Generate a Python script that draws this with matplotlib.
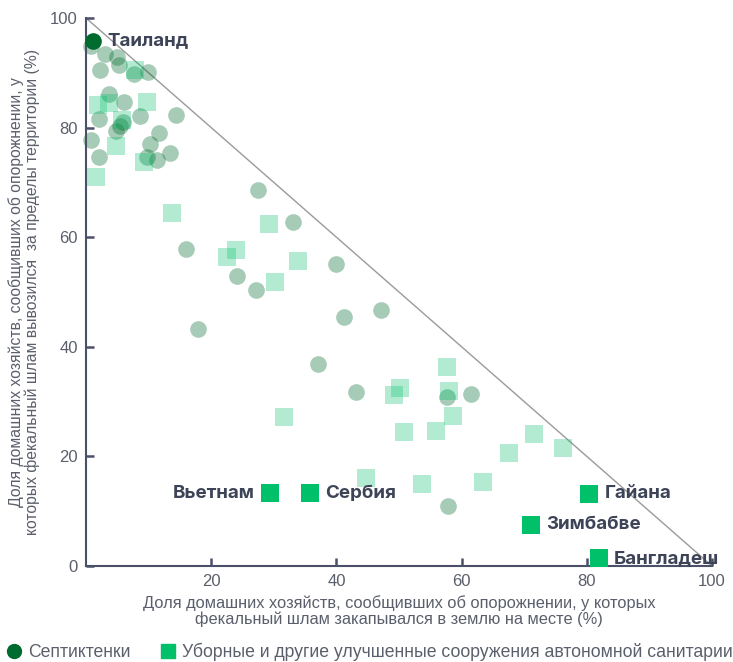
import matplotlib
matplotlib.use("Agg")
from matplotlib import pyplot as plt
from matplotlib.lines import Line2D

# Септиктенки (круги)
septic_x = [0.75, 3.1, 4.9, 5.3, 2.2, 7.6, 9.95, 3.7, 6.0, 2.0, 8.6, 14.3, 5.9, 5.4, 4.8,
            0.75, 11.7, 10.2, 2.1, 9.7, 11.4, 13.4,
            27.4, 33.0, 15.9, 24.2, 27.2, 39.9, 41.2, 47.1, 17.9, 37.1, 43.2, 57.6, 61.5, 57.8]
septic_y = [94.9, 93.4, 92.8, 91.4, 90.6, 89.8, 90.2, 86.2, 84.7, 81.6, 82.2, 82.3, 81.0, 80.3, 79.4,
            77.8, 79.1, 77.0, 74.7, 74.7, 74.0, 75.3,
            68.7, 62.8, 57.8, 52.9, 50.3, 55.2, 45.4, 46.8, 43.2, 36.8, 31.8, 30.8, 31.3, 10.9]

# Уборные и другие улучшенные сооружения (квадраты)
latrine_x = [7.8, 1.9, 3.7, 9.7, 5.75, 4.8, 9.3, 1.6,
             13.8, 29.2, 24.0, 22.5, 33.9, 30.2, 57.7, 50.2, 49.2, 58.0, 58.6, 31.7, 50.8, 55.9,
             71.6, 67.6, 76.2, 44.7, 53.7, 63.4]
latrine_y = [90.5, 84.2, 84.4, 84.7, 81.3, 76.6, 73.7, 71.0,
             64.5, 62.4, 57.7, 56.3, 55.7, 51.8, 36.4, 32.4, 31.2, 32.0, 27.4, 27.2, 24.5, 24.7,
             24.1, 20.7, 21.6, 16.1, 15.0, 15.3]

# Выделенные страны
hl_circle = ("Таиланд", 1.2, 95.8)
hl_squares = [("Вьетнам", 29.4, 13.3, "left"),
              ("Сербия", 35.8, 13.3, "right"),
              ("Гайана", 80.4, 13.2, "right"),
              ("Зимбабве", 71.1, 7.5, "right"),
              ("Бангладеш", 81.9, 1.4, "right")]

DARK = "#006b2e"
LIGHT = "#00c06a"
TEXT = "#3d4457"
GRAY = "#5a5f6b"

narrow = ["Liberation Sans", "DejaVu Sans"]

fig = plt.figure(figsize=(7.33, 6.62), dpi=100)
ax = fig.add_axes([0.1173, 0.145, 0.8541, 0.8278])

ax.plot([0, 100], [100, 0], color="#9a9a9a", lw=1.0, zorder=1)

cs = 12.0   # circle diameter, pt
ss = 12.6   # square side, pt
ax.scatter(septic_x, septic_y, s=cs**2, marker="o", color=DARK, alpha=0.35,
           linewidths=0, zorder=2, clip_on=False)
ax.scatter(latrine_x, latrine_y, s=ss**2, marker="s", color=LIGHT, alpha=0.3,
           linewidths=0, zorder=2, clip_on=False)

ax.scatter([hl_circle[1]], [hl_circle[2]], s=cs**2, marker="o", color=DARK,
           linewidths=0, zorder=4, clip_on=False)
ax.annotate(hl_circle[0], (hl_circle[1], hl_circle[2]), xytext=(10, 0),
            textcoords="offset points", va="center", ha="left",
            fontsize=13.5, fontweight="bold", color=TEXT, family="Inter")

for name, x, y, side in hl_squares:
    ax.scatter([x], [y], s=ss**2, marker="s", color=LIGHT, linewidths=0,
               zorder=4, clip_on=False)
    dx = 11 if side == "right" else -11
    ax.annotate(name, (x, y), xytext=(dx, 0), textcoords="offset points",
                va="center", ha="left" if side == "right" else "right",
                fontsize=13.5, fontweight="bold", color=TEXT, family="Inter",
                zorder=5)

ax.set_xlim(0, 100)
ax.set_ylim(0, 100)
ax.set_xticks([20, 40, 60, 80, 100])
ax.set_yticks([0, 20, 40, 60, 80, 100])
for s in ["top", "right"]:
    ax.spines[s].set_visible(False)
for s in ["left", "bottom"]:
    ax.spines[s].set_color("#4a5068")
    ax.spines[s].set_linewidth(1.5)
ax.tick_params(direction="in", length=6, width=1.8, color="#4a5068",
               labelcolor=GRAY, labelsize=12, pad=6)
for lab in ax.get_xticklabels() + ax.get_yticklabels():
    lab.set_family(narrow)

ax.set_xlabel("Доля домашних хозяйств, сообщивших об опорожнении, у которых\n"
              "фекальный шлам закапывался в землю на месте (%)",
              fontsize=11.8, color=GRAY, family=narrow, labelpad=4, linespacing=1.05)
ax.set_ylabel("Доля домашних хозяйств, сообщивших об опорожнении, у\n"
              "которых фекальный шлам вывозился  за пределы территории (%)",
              fontsize=11.3, color=GRAY, family=narrow, labelpad=7,
              linespacing=1.05)

handles = [Line2D([], [], marker="o", ls="", color=DARK, markersize=10),
           Line2D([], [], marker="s", ls="", color=LIGHT, markersize=10)]
fig.legend(handles, ["Септиктенки",
                     "Уборные и другие улучшенные сооружения автономной санитарии"],
           loc="lower left", bbox_to_anchor=(-0.014, -0.022), ncol=2, frameon=False,
           handletextpad=0.3, columnspacing=1.6, handlelength=1.0,
           prop={"family": narrow, "size": 12.7}, labelcolor=GRAY)

fig.savefig("out.png", dpi=100)
